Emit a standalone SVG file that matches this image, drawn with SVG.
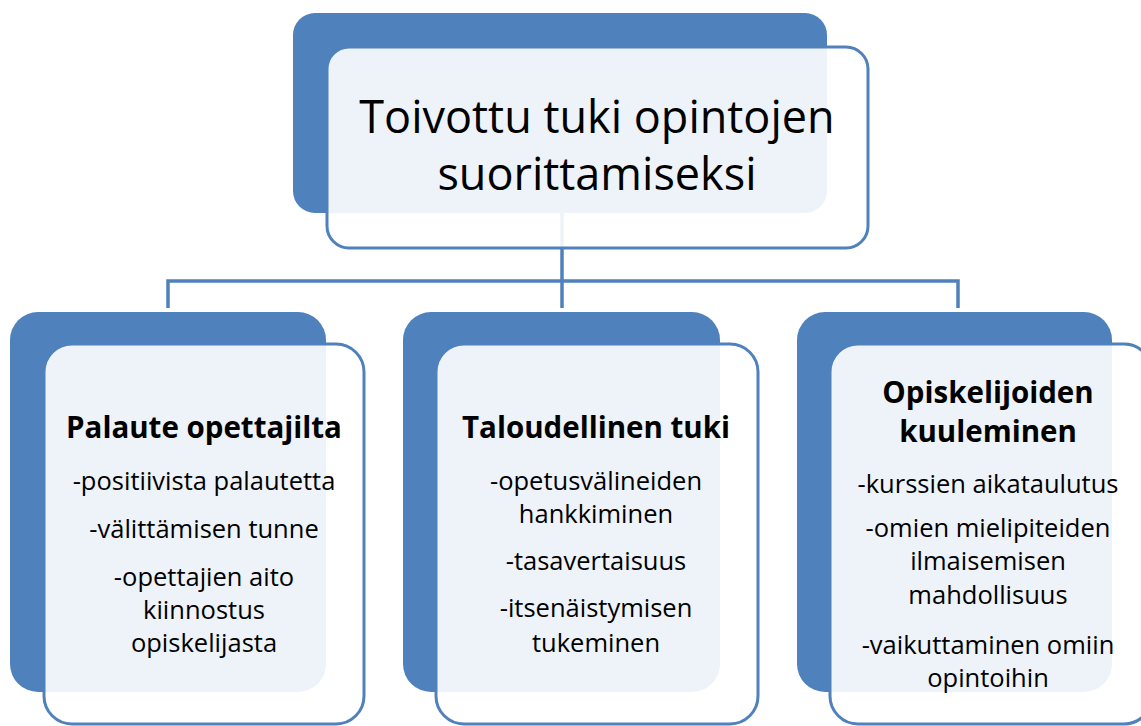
<svg xmlns="http://www.w3.org/2000/svg" width="1141" height="726" viewBox="0 0 1141 726">
  <style>
    .back { fill: #4f81bd; }
    .front { fill: #ffffff; fill-opacity: 0.9; stroke: #4f81bd; stroke-width: 3; }
    .conn { fill: none; stroke: #4f81bd; stroke-width: 3.5; }
    .title { font-family: "Open Sans", "Liberation Sans", sans-serif; font-size: 45px; fill: #000; text-anchor: middle; }
    .head { font-family: "Open Sans", "Liberation Sans", sans-serif; font-size: 29.5px; font-weight: bold; fill: #000; text-anchor: middle; }
    .item { font-family: "Open Sans", "Liberation Sans", sans-serif; font-size: 25.5px; fill: #000; text-anchor: middle; }
  </style>
  <rect width="1141" height="726" fill="#ffffff"/>
  <g id="connectors">
    <path class="conn" d="M562 213 V308"/>
    <path class="conn" d="M168 308 V281 H958 V308"/>
  </g>
  <g id="node-top">
    <rect class="back" x="293" y="13" width="534" height="200" rx="22"/>
    <rect class="front" x="327" y="47" width="541" height="201" rx="22"/>
    <text class="title" x="597" y="133">Toivottu tuki opintojen</text>
    <text class="title" x="597" y="190">suorittamiseksi</text>
  </g>
  <g id="node-palaute">
    <rect class="back" x="10" y="312" width="316" height="380" rx="28"/>
    <rect class="front" x="44" y="344" width="320" height="380" rx="28"/>
    <text class="head" x="204" y="438">Palaute opettajilta</text>
    <text class="item" x="204" y="490">-positiivista palautetta</text>
    <text class="item" x="204" y="538">-välittämisen tunne</text>
    <text class="item" x="204" y="586">-opettajien aito</text>
    <text class="item" x="204" y="619">kiinnostus</text>
    <text class="item" x="204" y="652">opiskelijasta</text>
  </g>
  <g id="node-talous">
    <rect class="back" x="403" y="312" width="317" height="380" rx="28"/>
    <rect class="front" x="436" y="344" width="322" height="380" rx="28"/>
    <text class="head" x="596" y="438">Taloudellinen tuki</text>
    <text class="item" x="596" y="490">-opetusvälineiden</text>
    <text class="item" x="596" y="523">hankkiminen</text>
    <text class="item" x="596" y="570">-tasavertaisuus</text>
    <text class="item" x="596" y="617">-itsenäistymisen</text>
    <text class="item" x="596" y="652">tukeminen</text>
  </g>
  <g id="node-kuuleminen">
    <rect class="back" x="797" y="312" width="315" height="380" rx="28"/>
    <rect class="front" x="830" y="344" width="322" height="380" rx="28"/>
    <text class="head" x="988" y="403">Opiskelijoiden</text>
    <text class="head" x="988" y="442">kuuleminen</text>
    <text class="item" x="988" y="493">-kurssien aikataulutus</text>
    <text class="item" x="988" y="537">-omien mielipiteiden</text>
    <text class="item" x="988" y="570">ilmaisemisen</text>
    <text class="item" x="988" y="604">mahdollisuus</text>
    <text class="item" x="988" y="654">-vaikuttaminen omiin</text>
    <text class="item" x="988" y="687">opintoihin</text>
  </g>
</svg>
